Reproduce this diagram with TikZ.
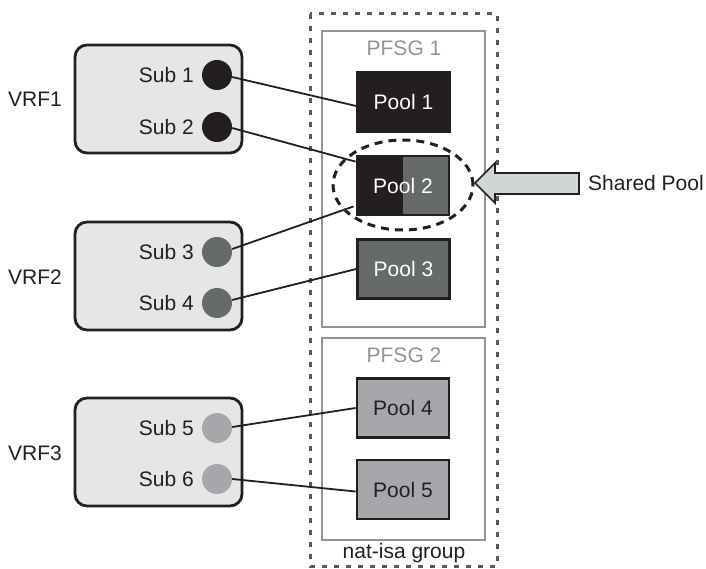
\documentclass[tikz,border=0pt]{standalone}
\usepackage{fontspec}
\setmainfont{Liberation Sans}
\usetikzlibrary{calc}
\definecolor{ink}{HTML}{231F20}
\definecolor{midgray}{HTML}{666B6A}
\definecolor{lightgray2}{HTML}{A7A6AA}
\definecolor{boxfill}{HTML}{E6E6E6}
\definecolor{framegray}{HTML}{939393}
\definecolor{outergray}{HTML}{5A5A5A}
\definecolor{arrowfill}{HTML}{D0D6D6}
\begin{document}
\begin{tikzpicture}[x=1pt,y=-1pt,
  every node/.style={font=\fontsize{21}{25}\selectfont, inner sep=0pt},
  vrfbox/.style={draw=ink, line width=2.8pt, fill=boxfill, rounded corners=12pt,
    minimum width=167pt, minimum height=108pt},
  subdot/.style={circle, minimum size=30pt},
  pool/.style={minimum width=92pt, minimum height=59pt, line width=2.8pt, draw=ink},
  pfsg/.style={draw=framegray, line width=2.8pt},
  link/.style={draw=ink, line width=1.8pt}]
\useasboundingbox (0,0) rectangle (706,569);

% outer group
\draw[outergray, line width=3pt, dash pattern=on 5pt off 7pt] (310,14) rectangle (497,566);
\node[text=ink] (grp) at (404,553) {nat-isa group};

% PFSG frames
\draw[pfsg] (322,31) rectangle (485,327);
\node[text=framegray] (pf1) at (404,48) {PFSG 1};
\draw[pfsg] (322,338) rectangle (485,540);
\node[text=framegray] (pf2) at (404,355) {PFSG 2};

% pools
\node[pool, fill=ink, text=white] (p1) at (403.5,102) {Pool 1};
\node[pool, fill=ink, text=white,
  path picture={\fill[midgray] (path picture bounding box.north) rectangle (path picture bounding box.south east);}]
  (p2) at (403,185.5) {Pool 2};
\node[pool, fill=midgray, text=white] (p3) at (403.5,269) {Pool 3};
\node[pool, fill=lightgray2, text=ink] (p4) at (403,408) {Pool 4};
\node[pool, fill=lightgray2, text=ink] (p5) at (403,489.5) {Pool 5};

% shared ellipse
\draw[ink, line width=3pt, dash pattern=on 8pt off 6pt] (403,185) ellipse [x radius=70pt, y radius=45pt];

% arrow
\coordinate (tip) at (475,183);
\draw[ink, line width=1.6pt, fill=arrowfill, line join=miter]
  (tip) -- (495,163) -- (495,173) -- (579,173) -- (579,194) -- (495,194) -- (495,203) -- cycle;
\node[anchor=west, text=ink] (shared) at (588,183) {Shared Pool};

% VRF boxes
\node[vrfbox] (v1) at (158.5,99) {};
\node[vrfbox] (v2) at (158.5,276) {};
\node[vrfbox] (v3) at (158.5,452) {};
\node[text=ink] (lv1) at (35,99) {VRF1};
\node[text=ink] (lv2) at (35,277) {VRF2};
\node[text=ink] (lv3) at (35,453) {VRF3};

% subs
\node[subdot, fill=ink] (s1) at (217,75) {};
\node[subdot, fill=ink] (s2) at (217,127) {};
\node[subdot, fill=midgray] (s3) at (217,252) {};
\node[subdot, fill=midgray] (s4) at (217,303) {};
\node[subdot, fill=lightgray2] (s5) at (217,428) {};
\node[subdot, fill=lightgray2] (s6) at (217,479) {};
\node[anchor=east, text=ink] (ls1) at (194,75) {Sub 1};
\node[anchor=east, text=ink] (ls2) at (194,127) {Sub 2};
\node[anchor=east, text=ink] (ls3) at (194,252) {Sub 3};
\node[anchor=east, text=ink] (ls4) at (194,303) {Sub 4};
\node[anchor=east, text=ink] (ls5) at (194,428) {Sub 5};
\node[anchor=east, text=ink] (ls6) at (194,479) {Sub 6};

% links
\draw[link] ($(s1.east)+(0,2)$) -- ($(p1.west)+(0,4)$);
\draw[link] ($(s2.east)+(0,1)$) -- ($(p2.north west)+(0,7)$);
\draw[link] ($(s3.east)+(0,-3)$) -- ($(p2.south west)+(-2,-10)$);
\draw[link] ($(s4.east)+(0,-3)$) -- (p3.west);
\draw[link] ($(s5.east)+(0,-1)$) -- (p4.west);
\draw[link] (s6.east) -- ($(p5.west)+(0,2)$);
\end{tikzpicture}
\end{document}
